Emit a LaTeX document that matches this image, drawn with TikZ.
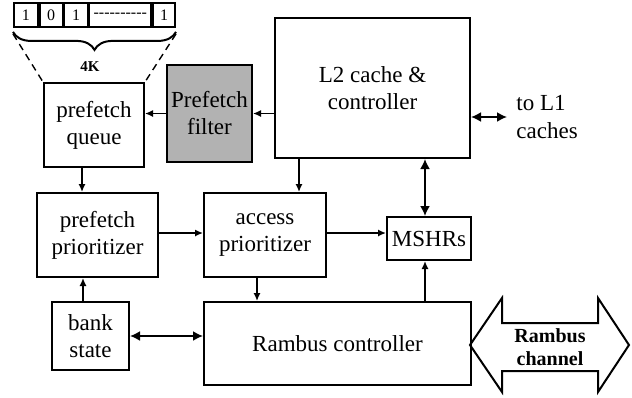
\documentclass[tikz,border=0pt]{standalone}
\usepackage{fontspec}
\setmainfont{Liberation Serif}
\usetikzlibrary{arrows.meta}
\usetikzlibrary{positioning}
\usetikzlibrary{decorations.pathreplacing}
\tikzset{% 
	unit/.style={draw,line width=1pt,align=center,inner sep=1pt,font=\fontsize{11.5}{13.5}\selectfont}
}
\tikzset{% 
	bit/.style={draw,line width=0.9pt,minimum height=12pt,inner sep=0pt,font=\fontsize{8}{9}\selectfont},
	link/.style={line width=0.8pt,-{Latex[length=4pt,width=3.6pt]}},
	duplex/.style={line width=0.9pt,{Latex[length=5pt,width=5pt]}-{Latex[length=5pt,width=5pt]}}
}

\begin{document}
\begin{tikzpicture}[x=0.5pt,y=-0.5pt]
		\useasboundingbox (0,0) rectangle (632,397);

		%Bit vector
		\node[bit,minimum width=12pt,anchor=west] (b1) at (13,15) {1};
		\node[bit,minimum width=11.5pt,right=0pt of b1] (b2) {0};
		\node[bit,minimum width=11.5pt,right=0pt of b2] (b3) {1};
		\node[bit,minimum width=31pt,right=0pt of b3] (b4) {-{}-{}-{}-{}-{}-{}-{}-{}-{}-};
		\node[bit,minimum width=11pt,right=0pt of b4] (b5) {1};
		\draw [line width=1pt,decorate,decoration={brace,mirror,amplitude=9pt}]
			([yshift=-2pt]b1.south west) -- ([yshift=-2pt]b5.south east);
		\node[font=\bfseries\fontsize{7.5}{9}\selectfont] (size) at (90,67) {4K};

		%Blocks
		\node[unit,minimum width=50pt,minimum height=42pt] (queue) at (94,125) {prefetch\\queue};
		\node[unit,fill=black!30,minimum width=42.5pt,minimum height=48.5pt] (filter) at (209.5,113.5) {Prefetch\\filter};
		\node[unit,minimum width=97.5pt,minimum height=70pt] (L2) at (372.5,88) {L2 cache \&\\controller};
		\node[unit,minimum width=60.5pt,minimum height=42pt] (pprio) at (97.5,235) {prefetch\\prioritizer};
		\node[unit,minimum width=61pt,minimum height=42pt] (aprio) at (265,235) {access\\prioritizer};
		\node[unit,minimum width=42pt,minimum height=21.5pt] (mshr) at (429,238.5) {MSHRs};
		\node[unit,minimum width=38.5pt,minimum height=34pt] (bank) at (90.5,336) {bank\\state};
		\node[unit,minimum width=133.5pt,minimum height=41.5pt] (rambus) at (337.5,343.5) {Rambus controller};
		\node[anchor=west,align=left,inner xsep=4.5pt,inner ysep=0pt,font=\fontsize{11.5}{14}\selectfont] (l1) at (507,117) {to L1\\caches};

		%Rambus channel
		\draw [line width=1pt] (470,345) -- (502,298) -- (502,323) -- (598,323) -- (598,298) -- (629,345)
			-- (598,392) -- (598,371) -- (502,371) -- (502,392) -- cycle;
		\node[font=\bfseries\fontsize{10}{11.5}\selectfont,align=center] (chan) at (550,347) {Rambus\\channel};

		%Dashed guides
		\draw [dash pattern=on 3.5pt off 2.5pt,line width=0.7pt] ([yshift=-3pt]b1.south west) -- (queue.north west);
		\draw [dash pattern=on 3.5pt off 2.5pt,line width=0.7pt] ([yshift=-3pt]b5.south east) -- (queue.north east);

		%Connectors
		\draw [link] (L2.west |- filter.east) -- (filter.east);
		\draw [link] (filter.west) -- (queue.east |- filter.west);
		\draw [duplex] (L2.east |- l1.west) -- (l1.west);
		\draw [link] ([xshift=-6pt]queue.south) -- ([xshift=-6pt]queue.south |- pprio.north);
		\draw [link] ([xshift=-36.75pt]L2.south) -- ([xshift=-36.75pt]L2.south |- aprio.north);
		\draw [duplex] ([xshift=-2pt]mshr.north |- L2.south) -- ([xshift=-2pt]mshr.north);
		\draw [link] ([yshift=1pt]pprio.east) -- ([yshift=1pt]pprio.east -| aprio.west);
		\draw [link] ([yshift=1pt]aprio.east) -- ([yshift=1pt]aprio.east -| mshr.west);
		\draw [link] ([xshift=-4pt]aprio.south) -- ([xshift=-4pt]aprio.south |- rambus.north);
		\draw [link] ([xshift=-3.75pt]bank.north) -- ([xshift=-3.75pt]bank.north |- pprio.south);
		\draw [duplex] (bank.east) -- (bank.east -| rambus.west);
		\draw [link] ([xshift=-2pt]mshr.south |- rambus.north) -- ([xshift=-2pt]mshr.south);

	\end{tikzpicture}
\end{document}
